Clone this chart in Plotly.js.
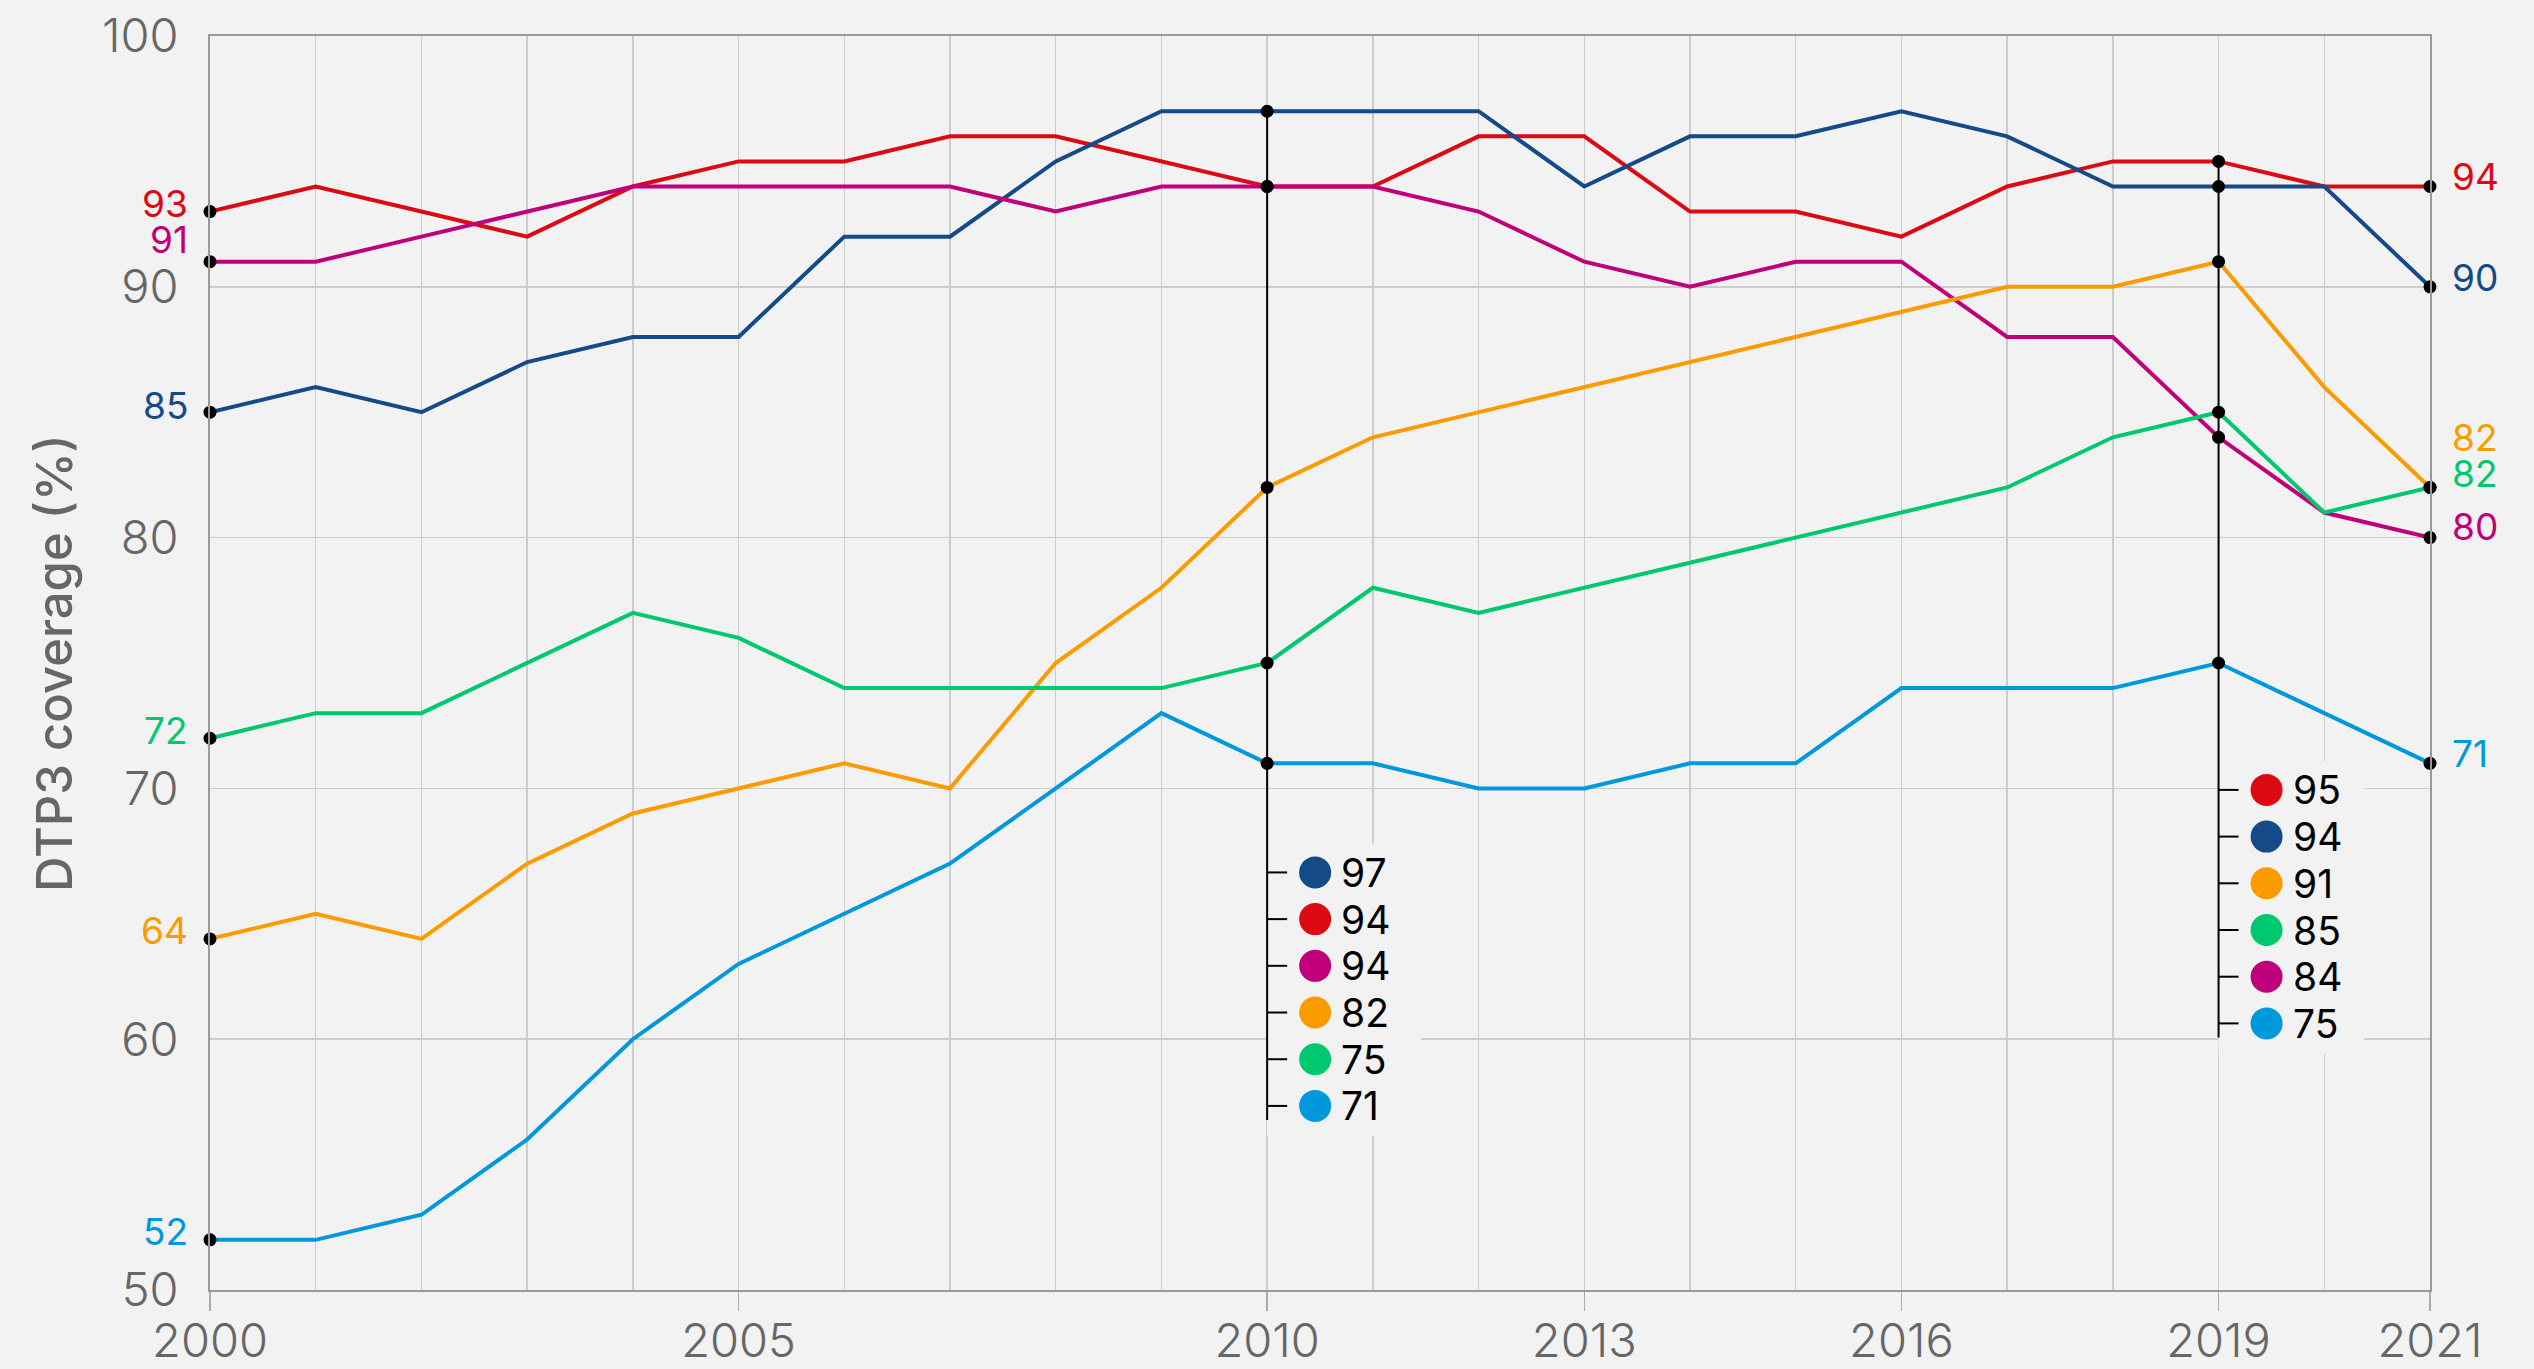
<!DOCTYPE html>
<html>
<head>
<meta charset="utf-8">
<script src="https://cdn.plot.ly/plotly-3.0.1.min.js"></script>
<style>
  html, body { margin: 0; padding: 0; background: #f2f2f2; }
  #chart { width: 2534px; height: 1369px; }
</style>
</head>
<body>
<div id="chart"></div>
<script>
// ---- data ----
const years = [2000, 2001, 2002, 2003, 2004, 2005, 2006, 2007, 2008, 2009, 2010,
               2011, 2012, 2013, 2014, 2015, 2016, 2017, 2018, 2019, 2020, 2021];
const seriesNames = ["European Region", "Western Pacific Region", "Region of the Americas",
                     "South-East Asia Region", "Eastern Mediterranean Region", "African Region"];
const europe      = [93, 94, 93, 92, 94, 95, 95, 96, 96, 95, 94, 94, 96, 96, 93, 93, 92, 94, 95, 95, 94, 94];
const westPacific = [85, 86, 85, 87, 88, 88, 92, 92, 95, 97, 97, 97, 97, 94, 96, 96, 97, 96, 94, 94, 94, 90];
const americas    = [91, 91, 92, 93, 94, 94, 94, 94, 93, 94, 94, 94, 93, 91, 90, 91, 91, 88, 88, 84, 81, 80];
const seAsia      = [64, 65, 64, 67, 69, 70, 71, 70, 75, 78, 82, 84, 85, 86, 87, 88, 89, 90, 90, 91, 86, 82];
const eastMed     = [72, 73, 73, 75, 77, 76, 74, 74, 74, 74, 75, 78, 77, 78, 79, 80, 81, 82, 84, 85, 81, 82];
const africa      = [52, 52, 53, 56, 60, 63, 65, 67, 70, 73, 71, 71, 70, 70, 71, 71, 74, 74, 74, 75, 73, 71];
const xTickYears  = [2000, 2005, 2010, 2013, 2016, 2019, 2021];
const yTickValues = [50, 60, 70, 80, 90, 100];
const markedYears = [2000, 2010, 2019, 2021];
const tooltipYears = [2010, 2019];

// ---- styles / layout config ----
const allSeries = [europe, westPacific, americas, seAsia, eastMed, africa];
const colors = ["#dc0a12", "#144a87", "#c0007a", "#fa9b00", "#00c86e", "#0098dc"];
const FONT = "Inter, Roboto, sans-serif";
const M = {l: 210, r: 104, t: 36, b: 79};
const W = 2534, H = 1369;
const yMin = 50, yMax = 100;
const pxPerUnit = (H - M.t - M.b) / (yMax - yMin);
const leftLabelShift  = [8, 7, 22, 8, 8, 8];
const rightLabelShift = [10, 9, 11, 50, 14, 10];
const tooltipTopRow = {2010: 66.65, 2019: 69.94};   // first row position (axis units)
const rowStepPx = 46.7;
const tooltipBoxWidth = {2010: 154, 2019: 146};

const traces = [];
allSeries.forEach((s, i) => {
  traces.push({
    x: years, y: s, type: "scatter", mode: "lines", name: seriesNames[i],
    line: {color: colors[i], width: 4}, hoverinfo: "skip", showlegend: false
  });
});
// black dots at marked years
allSeries.forEach((s, i) => {
  const xs = [], ys = [];
  markedYears.forEach(yr => { xs.push(yr); ys.push(s[years.indexOf(yr)]); });
  traces.push({
    x: xs, y: ys, type: "scatter", mode: "markers", name: seriesNames[i] + " points",
    marker: {color: "#000", size: 13}, hoverinfo: "skip", showlegend: false, cliponaxis: false
  });
});

const shapes = [];
const annotations = [];

// tooltips
tooltipYears.forEach(T => {
  const idx = years.indexOf(T);
  const rows = allSeries.map((s, i) => ({v: s[idx], c: colors[i]}));
  rows.sort((a, b) => b.v - a.v);
  const top = tooltipTopRow[T];
  const step = rowStepPx / pxPerUnit;
  const lastRow = top - step * (rows.length - 1);
  // background box
  shapes.push({
    type: "rect", xref: "x", yref: "y", xsizemode: "pixel", xanchor: T,
    x0: 0, x1: tooltipBoxWidth[T],
    y0: top + 29 / pxPerUnit, y1: lastRow - 30 / pxPerUnit,
    fillcolor: "#f2f2f2", line: {width: 0}, layer: "between"
  });
  // vertical line
  shapes.push({
    type: "line", xref: "x", yref: "y", x0: T, x1: T,
    y0: rows[0].v, y1: lastRow - 14 / pxPerUnit,
    line: {color: "#000", width: 2}, layer: "above"
  });
  rows.forEach((r, k) => {
    const ry = top - step * k;
    shapes.push({
      type: "line", xref: "x", yref: "y", xsizemode: "pixel", xanchor: T,
      x0: 0, x1: 20, y0: ry, y1: ry, line: {color: "#000", width: 2}, layer: "above"
    });
    shapes.push({
      type: "circle", xref: "x", yref: "y", xsizemode: "pixel", ysizemode: "pixel",
      xanchor: T, yanchor: ry, x0: 32, x1: 64, y0: -16, y1: 16,
      fillcolor: r.c, line: {width: 0}, layer: "above"
    });
    annotations.push({
      x: T, y: ry, xref: "x", yref: "y", xanchor: "left", yanchor: "middle",
      xshift: 72, text: String(r.v), showarrow: false,
      font: {family: FONT, size: 39, color: "#000"}
    });
  });
});

// end labels
allSeries.forEach((s, i) => {
  annotations.push({
    x: years[0], y: s[0], xref: "x", yref: "y", xanchor: "right", yanchor: "middle",
    xshift: -20, yshift: leftLabelShift[i], text: String(s[0]), showarrow: false,
    font: {family: FONT, size: 37, color: colors[i]}
  });
  const last = s[s.length - 1];
  annotations.push({
    x: years[years.length - 1], y: last, xref: "x", yref: "y", xanchor: "left", yanchor: "middle",
    xshift: 20, yshift: rightLabelShift[i], text: String(last), showarrow: false,
    font: {family: FONT, size: 37, color: colors[i]}
  });
});

// y axis title
annotations.push({
  xref: "paper", yref: "paper", x: (54 - M.l) / (W - M.l - M.r), y: 0.5,
  xanchor: "center", yanchor: "middle", textangle: -90, showarrow: false,
  text: "DTP3 coverage (%)",
  font: {family: FONT, size: 49, color: "#666666", weight: 500}
});

const layout = {
  width: W, height: H,
  margin: M,
  paper_bgcolor: "#f2f2f2", plot_bgcolor: "#f2f2f2",
  showlegend: false,
  font: {family: FONT, color: "#666666"},
  xaxis: {
    range: [2000, 2021], tickmode: "array", tickvals: xTickYears,
    ticktext: xTickYears.map(String),
    ticks: "outside", ticklen: 19, tickcolor: "#aaaaaa", tickwidth: 1.5,
    ticklabelstandoff: -10,
    tickfont: {family: FONT, size: 47, color: "#666666", weight: 300},
    showgrid: true, gridcolor: "#cccccc", gridwidth: 1.5,
    minor: {tickmode: "array", tickvals: years, showgrid: true, gridcolor: "#cccccc", gridwidth: 1.5, ticks: ""},
    showline: true, linecolor: "#999999", linewidth: 2, mirror: true,
    zeroline: false, fixedrange: true
  },
  yaxis: {
    range: [yMin, yMax], tickmode: "array", tickvals: yTickValues,
    ticktext: yTickValues.map(String),
    ticks: "", ticklabelstandoff: 20,
    tickfont: {family: FONT, size: 47, color: "#666666", weight: 300},
    showgrid: true, gridcolor: "#cccccc", gridwidth: 1.5,
    showline: true, linecolor: "#999999", linewidth: 2, mirror: true,
    zeroline: false, fixedrange: true
  },
  shapes: shapes,
  annotations: annotations
};

Plotly.newPlot("chart", traces, layout, {staticPlot: true, displayModeBar: false});
</script>
</body>
</html>
